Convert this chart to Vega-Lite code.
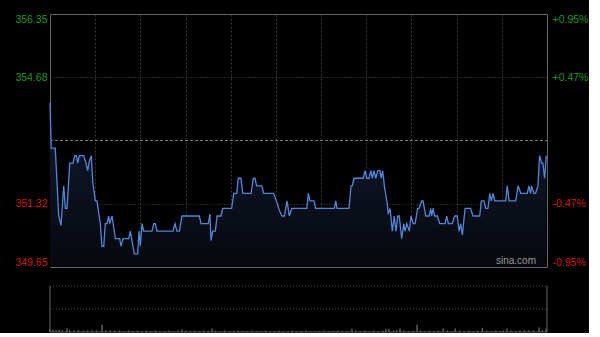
{
  "$schema": "https://vega.github.io/schema/vega-lite/v6.json",
  "background": "#000000",
  "padding": {"left": 14, "top": 13, "right": 0, "bottom": 0},
  "config": {"font": "Liberation Sans", "view": {"stroke": "#666666"}},
  "bounds": "flush",
  "spacing": 19,
  "datasets": {
    "price": [
      {"t": 0, "p": 354.0}, {"t": 0.8, "p": 352.8}, {"t": 3.5, "p": 352.8}, {"t": 5.8, "p": 351.0}, {"t": 7.3, "p": 350.75},
      {"t": 9.1, "p": 351.8}, {"t": 10.2, "p": 351.2}, {"t": 11.3, "p": 351.2}, {"t": 13.1, "p": 352.4}, {"t": 15.3, "p": 352.4},
      {"t": 16.4, "p": 352.6}, {"t": 17.5, "p": 352.6}, {"t": 18.4, "p": 352.4}, {"t": 19.5, "p": 352.6}, {"t": 22.4, "p": 352.6},
      {"t": 23.9, "p": 352.4}, {"t": 25.0, "p": 352.2}, {"t": 26.1, "p": 352.45}, {"t": 27.4, "p": 352.6}, {"t": 28.4, "p": 351.9},
      {"t": 30.1, "p": 351.4}, {"t": 31.2, "p": 351.4}, {"t": 33.4, "p": 350.8}, {"t": 34.5, "p": 350.2}, {"t": 35.7, "p": 350.2},
      {"t": 36.7, "p": 350.8}, {"t": 37.8, "p": 350.8}, {"t": 39.0, "p": 351.0}, {"t": 39.6, "p": 350.8}, {"t": 41.2, "p": 351.0},
      {"t": 43.4, "p": 350.4}, {"t": 46.3, "p": 350.4}, {"t": 47.1, "p": 350.2}, {"t": 48.5, "p": 350.4}, {"t": 52.3, "p": 350.4},
      {"t": 53.3, "p": 350.6}, {"t": 56.0, "p": 350.0}, {"t": 58.2, "p": 350.0}, {"t": 59.1, "p": 350.6}, {"t": 60.0, "p": 350.2},
      {"t": 61.1, "p": 350.8}, {"t": 62.2, "p": 350.6}, {"t": 67.7, "p": 350.6}, {"t": 68.9, "p": 350.8}, {"t": 69.9, "p": 350.8},
      {"t": 71.0, "p": 350.6}, {"t": 81.7, "p": 350.6}, {"t": 83.0, "p": 350.8}, {"t": 84.3, "p": 350.6}, {"t": 85.9, "p": 350.6},
      {"t": 87.6, "p": 351.0}, {"t": 99.1, "p": 351.0}, {"t": 100.3, "p": 350.8}, {"t": 105.1, "p": 350.8}, {"t": 106.2, "p": 351.05},
      {"t": 106.9, "p": 350.35}, {"t": 108.0, "p": 350.6}, {"t": 109.8, "p": 350.6}, {"t": 110.9, "p": 351.0}, {"t": 113.5, "p": 351.0},
      {"t": 114.7, "p": 351.2}, {"t": 120.6, "p": 351.2}, {"t": 122.0, "p": 351.6}, {"t": 124.0, "p": 351.6}, {"t": 125.0, "p": 352.0},
      {"t": 126.8, "p": 352.0}, {"t": 128.0, "p": 351.6}, {"t": 133.5, "p": 351.6}, {"t": 135.0, "p": 352.0}, {"t": 136.1, "p": 352.0},
      {"t": 137.2, "p": 351.8}, {"t": 140.6, "p": 351.8}, {"t": 141.9, "p": 351.6}, {"t": 148.5, "p": 351.6}, {"t": 150.7, "p": 351.35},
      {"t": 152.3, "p": 351.15}, {"t": 154.0, "p": 351.0}, {"t": 155.6, "p": 351.0}, {"t": 157.4, "p": 351.4}, {"t": 158.9, "p": 351.0},
      {"t": 160.5, "p": 351.2}, {"t": 170.5, "p": 351.2}, {"t": 171.5, "p": 351.6}, {"t": 172.6, "p": 351.4}, {"t": 175.3, "p": 351.4},
      {"t": 176.4, "p": 351.2}, {"t": 188.8, "p": 351.2}, {"t": 189.7, "p": 351.4}, {"t": 190.6, "p": 351.2}, {"t": 198.5, "p": 351.2},
      {"t": 199.9, "p": 351.8}, {"t": 200.7, "p": 351.8}, {"t": 201.9, "p": 352.0}, {"t": 208.0, "p": 352.0}, {"t": 209.2, "p": 352.2},
      {"t": 210.3, "p": 352.0}, {"t": 211.8, "p": 352.0}, {"t": 213.1, "p": 352.2}, {"t": 214.0, "p": 352.0}, {"t": 215.1, "p": 352.2},
      {"t": 216.3, "p": 352.0}, {"t": 217.6, "p": 352.2}, {"t": 219.1, "p": 352.2}, {"t": 219.8, "p": 352.0}, {"t": 220.9, "p": 352.2},
      {"t": 222.0, "p": 351.8}, {"t": 224.0, "p": 351.3}, {"t": 224.6, "p": 351.05}, {"t": 225.8, "p": 351.2}, {"t": 227.3, "p": 350.6},
      {"t": 228.6, "p": 351.0}, {"t": 229.7, "p": 350.6}, {"t": 230.9, "p": 351.0}, {"t": 231.9, "p": 351.0}, {"t": 233.5, "p": 350.4},
      {"t": 234.9, "p": 350.8}, {"t": 235.7, "p": 350.6}, {"t": 236.9, "p": 350.8}, {"t": 238.6, "p": 350.6}, {"t": 239.7, "p": 351.0},
      {"t": 241.2, "p": 350.8}, {"t": 242.4, "p": 350.8}, {"t": 244.1, "p": 351.2}, {"t": 245.0, "p": 351.2}, {"t": 246.8, "p": 351.4},
      {"t": 247.7, "p": 351.4}, {"t": 249.5, "p": 351.0}, {"t": 251.7, "p": 351.0}, {"t": 252.8, "p": 351.2}, {"t": 253.4, "p": 351.0},
      {"t": 254.3, "p": 351.2}, {"t": 255.4, "p": 351.0}, {"t": 257.2, "p": 351.0}, {"t": 258.8, "p": 350.8}, {"t": 262.3, "p": 350.8},
      {"t": 263.4, "p": 351.0}, {"t": 264.5, "p": 350.8}, {"t": 267.1, "p": 350.8}, {"t": 268.7, "p": 351.0}, {"t": 270.4, "p": 351.0},
      {"t": 271.6, "p": 350.6}, {"t": 272.7, "p": 350.8}, {"t": 273.8, "p": 350.5}, {"t": 275.6, "p": 351.2}, {"t": 279.3, "p": 351.2},
      {"t": 280.9, "p": 351.0}, {"t": 285.3, "p": 351.0}, {"t": 286.4, "p": 351.4}, {"t": 288.2, "p": 351.4}, {"t": 289.3, "p": 351.2},
      {"t": 290.8, "p": 351.2}, {"t": 292.0, "p": 351.6}, {"t": 293.0, "p": 351.4}, {"t": 294.2, "p": 351.6}, {"t": 295.3, "p": 351.4},
      {"t": 302.6, "p": 351.4}, {"t": 303.6, "p": 351.8}, {"t": 304.8, "p": 351.4}, {"t": 309.2, "p": 351.4}, {"t": 310.8, "p": 351.8},
      {"t": 312.6, "p": 351.6}, {"t": 316.9, "p": 351.6}, {"t": 318.0, "p": 351.8}, {"t": 319.1, "p": 351.6}, {"t": 319.8, "p": 351.8},
      {"t": 321.3, "p": 351.6}, {"t": 322.4, "p": 351.6}, {"t": 324.0, "p": 351.8}, {"t": 325.1, "p": 352.6}, {"t": 326.5, "p": 352.4},
      {"t": 327.3, "p": 352.4}, {"t": 328.4, "p": 352.0}, {"t": 329.5, "p": 352.6}
    ],
    "vol": [
      {"t": 0, "v": 6}, {"t": 2, "v": 5}, {"t": 4, "v": 4}, {"t": 6, "v": 5}, {"t": 8, "v": 4}, {"t": 11.3, "v": 8}, {"t": 13, "v": 4},
      {"t": 16, "v": 3}, {"t": 19, "v": 4}, {"t": 22, "v": 3}, {"t": 25, "v": 3}, {"t": 28, "v": 4}, {"t": 31, "v": 3}, {"t": 34.5, "v": 16},
      {"t": 37, "v": 4}, {"t": 40, "v": 3}, {"t": 43, "v": 3}, {"t": 46, "v": 3}, {"t": 49, "v": 2}, {"t": 52, "v": 3}, {"t": 55, "v": 2},
      {"t": 58, "v": 3}, {"t": 61, "v": 2}, {"t": 64, "v": 3}, {"t": 67, "v": 2}, {"t": 70, "v": 3}, {"t": 73, "v": 2}, {"t": 76, "v": 2},
      {"t": 79, "v": 3}, {"t": 82, "v": 2}, {"t": 85, "v": 3}, {"t": 87.6, "v": 6}, {"t": 90, "v": 3}, {"t": 93, "v": 2}, {"t": 96, "v": 3},
      {"t": 99, "v": 2}, {"t": 102, "v": 3}, {"t": 105, "v": 2}, {"t": 107.6, "v": 7.5}, {"t": 110, "v": 3}, {"t": 113, "v": 2}, {"t": 116, "v": 3},
      {"t": 119, "v": 2}, {"t": 122, "v": 2}, {"t": 125, "v": 3}, {"t": 128, "v": 2}, {"t": 131, "v": 2}, {"t": 134, "v": 3}, {"t": 137, "v": 2},
      {"t": 140, "v": 2}, {"t": 143, "v": 3}, {"t": 146, "v": 2}, {"t": 149, "v": 2}, {"t": 152, "v": 3}, {"t": 155, "v": 2}, {"t": 158, "v": 2},
      {"t": 161, "v": 3}, {"t": 164, "v": 2}, {"t": 167, "v": 2}, {"t": 170, "v": 3}, {"t": 173, "v": 2}, {"t": 176, "v": 2}, {"t": 179, "v": 2},
      {"t": 182, "v": 3}, {"t": 185, "v": 2}, {"t": 188, "v": 2}, {"t": 191, "v": 3}, {"t": 194, "v": 2}, {"t": 197, "v": 2}, {"t": 200.5, "v": 7.5},
      {"t": 203, "v": 3}, {"t": 206, "v": 2}, {"t": 209, "v": 3}, {"t": 212, "v": 2}, {"t": 215, "v": 3}, {"t": 218, "v": 2}, {"t": 221, "v": 3},
      {"t": 223, "v": 7}, {"t": 225, "v": 7}, {"t": 228, "v": 3}, {"t": 230, "v": 4}, {"t": 232.4, "v": 7.5}, {"t": 235, "v": 3}, {"t": 238, "v": 2},
      {"t": 241, "v": 3}, {"t": 243.7, "v": 15.5}, {"t": 246, "v": 3}, {"t": 249, "v": 2}, {"t": 252, "v": 3}, {"t": 255, "v": 2}, {"t": 258, "v": 3},
      {"t": 261, "v": 7.5}, {"t": 264, "v": 3}, {"t": 267, "v": 2}, {"t": 269, "v": 7.5}, {"t": 272, "v": 3}, {"t": 275, "v": 2}, {"t": 278, "v": 3},
      {"t": 281, "v": 2}, {"t": 284, "v": 3}, {"t": 287, "v": 9}, {"t": 290, "v": 3}, {"t": 293, "v": 2}, {"t": 296, "v": 3}, {"t": 299, "v": 2},
      {"t": 301, "v": 3}, {"t": 303.4, "v": 7.5}, {"t": 306, "v": 3}, {"t": 309, "v": 2}, {"t": 312, "v": 3}, {"t": 315, "v": 3}, {"t": 318, "v": 4},
      {"t": 321, "v": 3}, {"t": 324.7, "v": 10}, {"t": 327, "v": 4}, {"t": 329.3, "v": 7}
    ]
  },
  "vconcat": [
    {
      "width": 497,
      "height": 253,
      "layer": [
        {
          "data": {"name": "price"},
          "mark": {"type": "area", "color": {"gradient": "linear", "x1": 0, "y1": 0, "x2": 0, "y2": 1, "stops": [{"offset": 0, "color": "#111c30"}, {"offset": 1, "color": "#06080d"}]}},
          "encoding": {
            "x": {"field": "t", "type": "quantitative", "scale": {"domain": [0, 330], "nice": false, "zero": false},
                  "axis": {"values": [30, 60, 90, 120, 150, 180, 210, 240, 270, 300], "grid": true, "gridColor": "#383838", "gridDash": [2, 2], "labels": false, "ticks": false, "domain": false, "title": null}},
            "y": {"field": "p", "type": "quantitative", "scale": {"domain": [349.65, 356.35], "nice": false, "zero": false},
                  "axis": {"orient": "left", "values": [349.65, 351.32, 354.68, 356.35], "format": ".2f", "labelFlush": true, "ticks": false, "domain": false, "title": null,
                           "grid": true, "gridDash": [1, 2], "gridColor": {"condition": {"test": "datum.value > 350 && datum.value < 356", "value": "#4a4a4a"}, "value": "transparent"},
                           "labelColor": {"condition": {"test": "datum.value > 353", "value": "#1a9a1a"}, "value": "#d0180f"},
                           "labelFontSize": 10.5, "labelPadding": 3}},
            "y2": {"datum": 349.65}
          }
        },
        {
          "data": {"values": [{}]},
          "mark": {"type": "rule", "color": "#777777", "strokeDash": [3, 2], "strokeWidth": 1},
          "encoding": {
            "x": {"datum": 0, "type": "quantitative", "axis": {"values": [30, 60, 90, 120, 150, 180, 210, 240, 270, 300], "grid": true, "gridColor": "#383838", "gridDash": [2, 2], "labels": false, "ticks": false, "domain": false, "title": null}},
            "x2": {"datum": 330},
            "y": {"datum": 353, "type": "quantitative", "axis": null}
          }
        },
        {
          "data": {"name": "price"},
          "mark": {"type": "line", "color": "#4f87dc", "strokeWidth": 1.3},
          "encoding": {
            "x": {"field": "t", "type": "quantitative", "axis": {"values": [30, 60, 90, 120, 150, 180, 210, 240, 270, 300], "grid": true, "gridColor": "#383838", "gridDash": [2, 2], "labels": false, "ticks": false, "domain": false, "title": null}},
            "y": {"field": "p", "type": "quantitative",
                  "axis": {"orient": "right", "values": [349.65, 351.32, 354.68, 356.35], "labelExpr": "datum.value > 356 ? '+0.95%' : datum.value > 354 ? '+0.47%' : datum.value > 350 ? '-0.47%' : '-0.95%'",
                           "labelFlush": true, "ticks": false, "domain": false, "grid": false, "title": null,
                           "labelColor": {"condition": {"test": "datum.value > 353", "value": "#1a9a1a"}, "value": "#d0180f"},
                           "labelFontSize": 10.5, "labelPadding": 5}}
          }
        },
        {
          "data": {"values": [{}]},
          "mark": {"type": "text", "text": "sina.com", "color": "#9a9a9a", "fontSize": 10, "align": "right", "baseline": "bottom", "dx": -11, "dy": -1},
          "encoding": {
            "x": {"datum": 330, "type": "quantitative", "axis": {"values": [30, 60, 90, 120, 150, 180, 210, 240, 270, 300], "grid": true, "gridColor": "#383838", "gridDash": [2, 2], "labels": false, "ticks": false, "domain": false, "title": null}},
            "y": {"datum": 349.65, "type": "quantitative", "axis": null}
          }
        }
      ],
      "resolve": {"axis": {"y": "independent"}}
    },
    {
      "width": 497,
      "height": 46,
      "view": {"stroke": null},
      "layer": [
        {
          "data": {"name": "vol"},
          "mark": {"type": "bar", "width": 1, "color": "#8a8a8a"},
          "encoding": {
            "x": {"field": "t", "type": "quantitative", "scale": {"domain": [0, 330], "nice": false, "zero": false, "padding": 0}, "axis": null},
            "y": {"field": "v", "type": "quantitative", "scale": {"domain": [0, 100], "nice": false}, "axis": null}
          }
        },
        {
          "data": {"values": [{}]},
          "mark": {"type": "rule", "color": "#555555", "strokeDash": [1, 2]},
          "encoding": {"x": {"datum": 0, "axis": null}, "x2": {"datum": 330}, "y": {"datum": 100, "axis": null}}
        },
        {
          "data": {"values": [{}]},
          "mark": {"type": "rule", "color": "#555555", "strokeDash": [1, 2]},
          "encoding": {"x": {"datum": 0, "axis": null}, "x2": {"datum": 330}, "y": {"datum": 50, "axis": null}}
        },
        {
          "data": {"values": [{}]},
          "mark": {"type": "rule", "color": "#555555"},
          "encoding": {"x": {"datum": 0, "axis": null}, "x2": {"datum": 330}, "y": {"datum": 0, "axis": null}}
        },
        {
          "data": {"values": [{}]},
          "mark": {"type": "rule", "color": "#666666"},
          "encoding": {"x": {"datum": 0, "axis": null}, "y": {"datum": 0, "axis": null}, "y2": {"datum": 100}}
        },
        {
          "data": {"values": [{}]},
          "mark": {"type": "rule", "color": "#666666"},
          "encoding": {"x": {"datum": 330, "axis": null}, "y": {"datum": 0, "axis": null}, "y2": {"datum": 100}}
        }
      ]
    }
  ]
}
